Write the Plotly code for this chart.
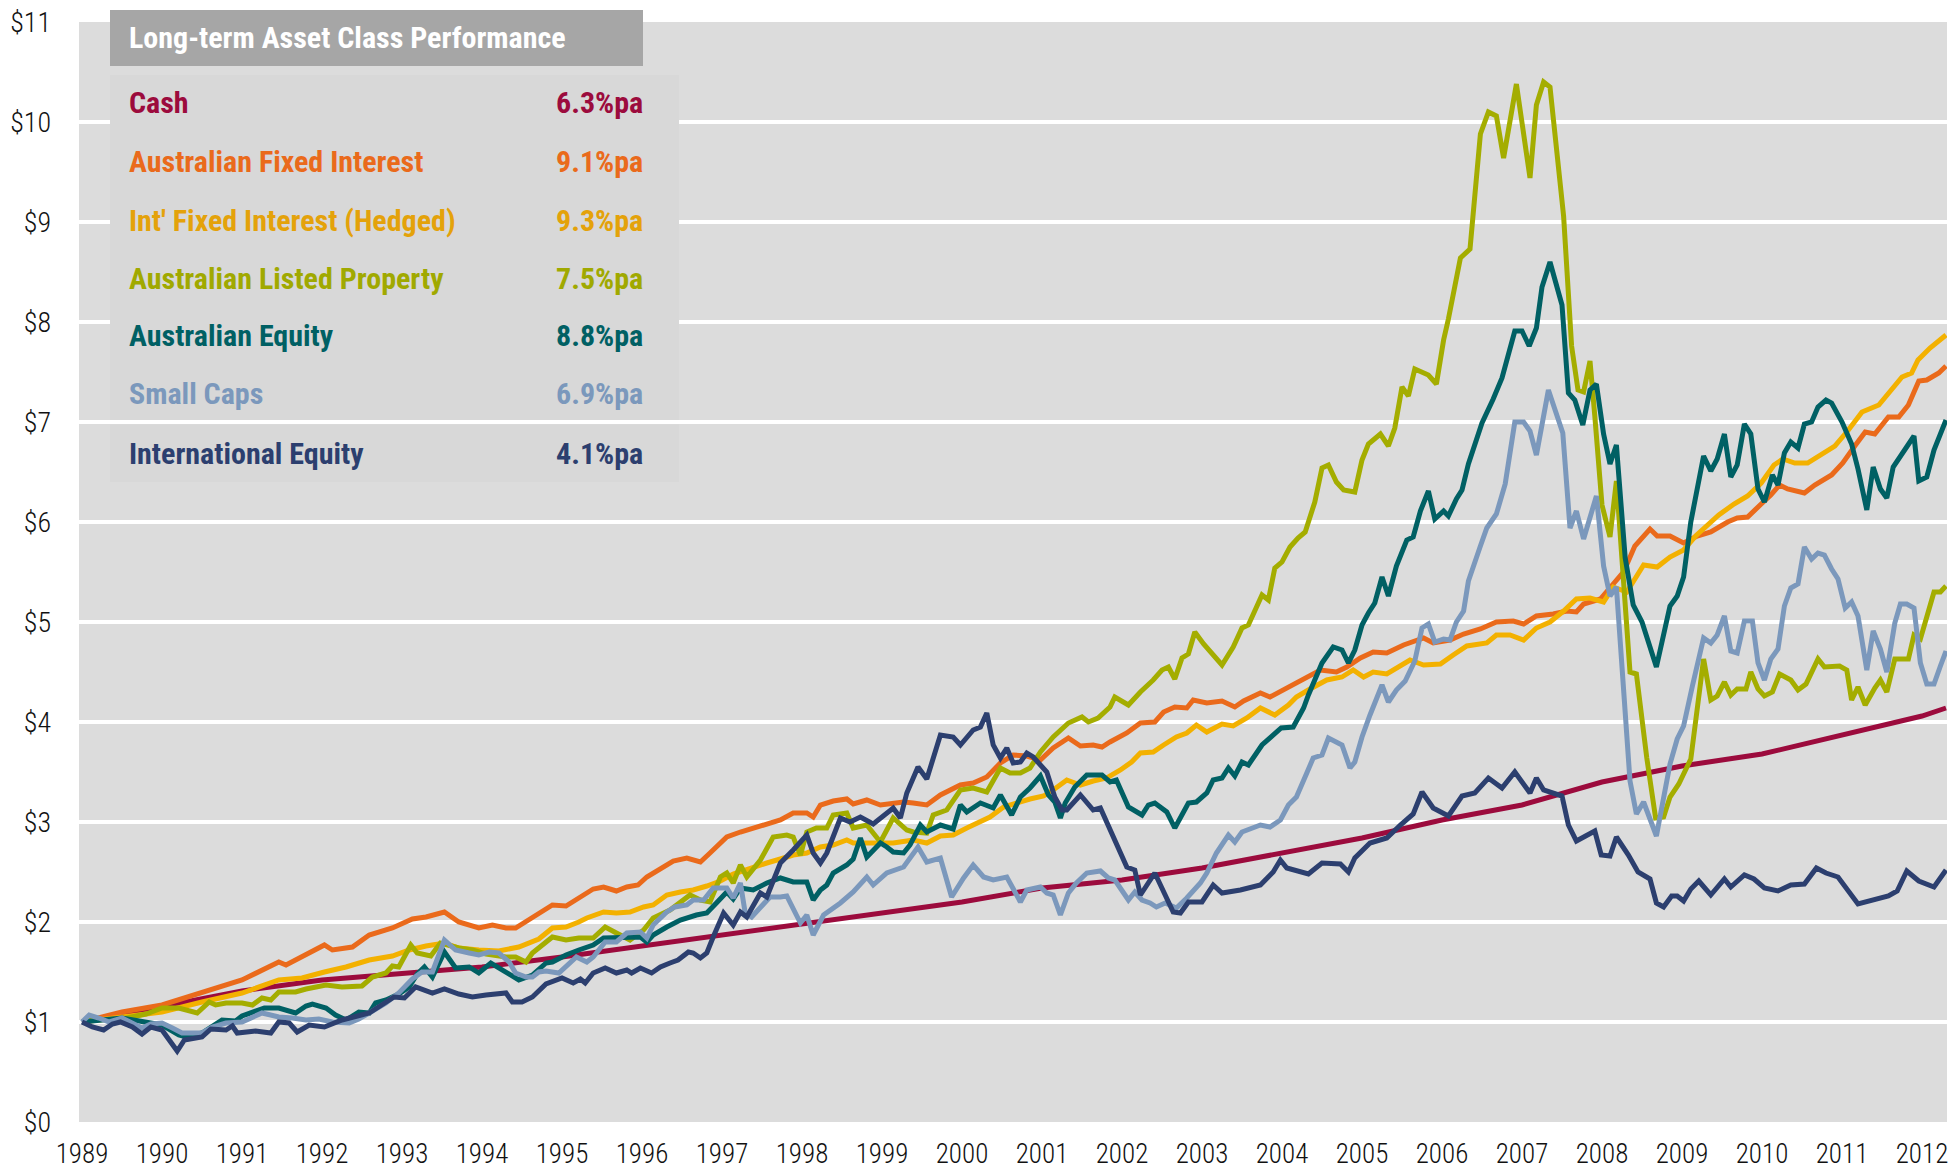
import plotly.graph_objects as go

# ---------------- data ----------------
cash_years = [1989.0, 1990, 1991, 1992, 1993, 1994, 1995, 1996, 1997, 1998, 1999, 2000, 2001, 2002,
              2003, 2004, 2005, 2006, 2007, 2008, 2009, 2010, 2011, 2012, 2012.3]
cash_values = [1.00, 1.16, 1.31, 1.42, 1.48, 1.55, 1.65, 1.76, 1.87, 1.99, 2.09, 2.20, 2.34, 2.42,
               2.54, 2.69, 2.84, 3.02, 3.17, 3.40, 3.56, 3.68, 3.87, 4.06, 4.14]

afi_years = [1989.0, 1989.5, 1990.0, 1990.5, 1991.0, 1991.46, 1991.55, 1992.03, 1992.13, 1992.38, 1992.59,
             1992.88, 1993.13, 1993.30, 1993.53, 1993.71, 1993.96, 1994.13, 1994.30, 1994.42, 1994.63,
             1994.88, 1995.05, 1995.21, 1995.39, 1995.52, 1995.68, 1995.81, 1995.95, 1996.06, 1996.23,
             1996.39, 1996.56, 1996.73, 1996.85, 1997.06, 1997.23, 1997.39, 1997.56, 1997.73, 1997.89,
             1998.06, 1998.14, 1998.23, 1998.39, 1998.56, 1998.64, 1998.81, 1998.98, 1999.14, 1999.27,
             1999.39, 1999.56, 1999.73, 1999.98, 2000.14, 2000.31, 2000.48, 2000.64, 2000.81, 2000.98,
             2001.14, 2001.33, 2001.48, 2001.64, 2001.75, 2001.85, 2002.06, 2002.23, 2002.41, 2002.52,
             2002.66, 2002.81, 2002.89, 2003.06, 2003.25, 2003.41, 2003.52, 2003.73, 2003.85, 2004.06,
             2004.27, 2004.48, 2004.68, 2004.81, 2004.98, 2005.14, 2005.31, 2005.52, 2005.77, 2005.89,
             2006.1, 2006.27, 2006.48, 2006.68, 2006.89, 2007.02, 2007.18, 2007.39, 2007.56, 2007.68,
             2007.77, 2007.98, 2008.14, 2008.27, 2008.41, 2008.6, 2008.69, 2008.85, 2009.02, 2009.19,
             2009.36, 2009.48, 2009.57, 2009.69, 2009.82, 2009.99, 2010.11, 2010.22, 2010.32, 2010.53,
             2010.66, 2010.87, 2011.01, 2011.16, 2011.29, 2011.41, 2011.58, 2011.71, 2011.83, 2011.96,
             2012.06, 2012.21, 2012.3]
afi_values = [1.00, 1.10, 1.17, 1.30, 1.42, 1.60, 1.57, 1.77, 1.72, 1.75, 1.87,
              1.94, 2.03, 2.05, 2.10, 2.00, 1.94, 1.97, 1.94, 1.94, 2.04,
              2.17, 2.16, 2.24, 2.33, 2.35, 2.31, 2.35, 2.37, 2.45, 2.54,
              2.61, 2.64, 2.60, 2.69, 2.85, 2.90, 2.94, 2.99, 3.02, 3.09,
              3.09, 3.05, 3.17, 3.21, 3.23, 3.18, 3.22, 3.17, 3.19, 3.20,
              3.19, 3.17, 3.27, 3.37, 3.39, 3.45, 3.59, 3.67, 3.66, 3.62,
              3.74, 3.84, 3.76, 3.77, 3.75, 3.80, 3.89, 3.99, 4.00, 4.10,
              4.15, 4.14, 4.22, 4.19, 4.21, 4.15, 4.21, 4.29, 4.25, 4.34,
              4.44, 4.52, 4.50, 4.55, 4.64, 4.70, 4.69, 4.77, 4.84, 4.79,
              4.82, 4.88, 4.93, 5.00, 5.01, 4.98, 5.06, 5.08, 5.11, 5.10,
              5.18, 5.23, 5.38, 5.50, 5.76, 5.93, 5.86, 5.86, 5.79, 5.86,
              5.90, 5.96, 6.00, 6.04, 6.05, 6.18, 6.27, 6.37, 6.33, 6.29,
              6.37, 6.47, 6.59, 6.76, 6.90, 6.88, 7.05, 7.05, 7.17, 7.41,
              7.42, 7.49, 7.56]

ifi_years = [1989.0, 1989.5, 1990.0, 1990.5, 1991.0, 1991.46, 1991.75, 1992.03, 1992.3, 1992.59, 1992.88,
             1993.09, 1993.30, 1993.53, 1993.71, 1993.96, 1994.21, 1994.46, 1994.71, 1994.88, 1995.05,
             1995.21, 1995.31, 1995.52, 1995.68, 1995.85, 1996.02, 1996.14, 1996.31, 1996.48, 1996.64,
             1996.81, 1996.98, 1997.14, 1997.39, 1997.56, 1997.73, 1997.89, 1998.06, 1998.23, 1998.39,
             1998.56, 1998.64, 1998.89, 1999.14, 1999.39, 1999.56, 1999.73, 1999.89, 2000.06, 2000.23,
             2000.35, 2000.52, 2000.68, 2000.85, 2001.02, 2001.14, 2001.31, 2001.48, 2001.64, 2001.81,
             2001.98, 2002.12, 2002.23, 2002.39, 2002.52, 2002.68, 2002.81, 2002.93, 2003.06, 2003.25,
             2003.39, 2003.56, 2003.73, 2003.91, 2004.08, 2004.18, 2004.35, 2004.56, 2004.75, 2004.89,
             2005.02, 2005.14, 2005.31, 2005.39, 2005.6, 2005.77, 2005.98, 2006.14, 2006.31, 2006.56,
             2006.68, 2006.85, 2007.02, 2007.18, 2007.35, 2007.52, 2007.68, 2007.85, 2008.02, 2008.14,
             2008.31, 2008.52, 2008.69, 2008.85, 2009.02, 2009.17, 2009.34, 2009.46, 2009.65, 2009.82,
             2009.99, 2010.15, 2010.26, 2010.41, 2010.57, 2010.74, 2010.91, 2011.08, 2011.25, 2011.46,
             2011.62, 2011.75, 2011.87, 2011.95, 2012.1, 2012.3]
ifi_values = [1.00, 1.05, 1.10, 1.20, 1.29, 1.42, 1.44, 1.50, 1.55, 1.62, 1.66,
              1.72, 1.76, 1.79, 1.74, 1.72, 1.71, 1.75, 1.83, 1.94, 1.95,
              2.00, 2.04, 2.10, 2.09, 2.10, 2.15, 2.17, 2.27, 2.30, 2.32,
              2.36, 2.41, 2.48, 2.55, 2.59, 2.63, 2.67, 2.69, 2.75, 2.77,
              2.82, 2.79, 2.79, 2.79, 2.82, 2.79, 2.86, 2.87, 2.94, 3.00,
              3.05, 3.15, 3.19, 3.23, 3.26, 3.32, 3.42, 3.37, 3.41, 3.44,
              3.52, 3.60, 3.69, 3.70, 3.77, 3.85, 3.89, 3.97, 3.90, 3.98,
              3.96, 4.04, 4.14, 4.07, 4.17, 4.25, 4.33, 4.42, 4.45, 4.52,
              4.45, 4.50, 4.48, 4.52, 4.62, 4.57, 4.58, 4.67, 4.76, 4.79,
              4.87, 4.87, 4.82, 4.94, 5.00, 5.11, 5.23, 5.24, 5.20, 5.35,
              5.30, 5.57, 5.55, 5.65, 5.72, 5.86, 5.98, 6.07, 6.18, 6.26,
              6.39, 6.57, 6.63, 6.59, 6.59, 6.67, 6.76, 6.92, 7.10, 7.17,
              7.33, 7.45, 7.49, 7.62, 7.74, 7.87]

alp_years = [1989.0, 1989.13, 1989.5, 1989.63, 1989.8, 1990.0, 1990.21, 1990.44, 1990.59, 1990.67, 1990.80,
             1991.0, 1991.13, 1991.25, 1991.36, 1991.46, 1991.67, 1991.80, 1992.05, 1992.25, 1992.50,
             1992.63, 1992.80, 1992.88, 1992.96, 1993.11, 1993.19, 1993.36, 1993.48, 1993.71, 1993.88,
             1994.05, 1994.30, 1994.42, 1994.55, 1994.63, 1994.80, 1994.88, 1995.05, 1995.21, 1995.39,
             1995.54, 1995.68, 1995.85, 1996.02, 1996.14, 1996.35, 1996.6, 1996.73, 1996.85, 1996.98,
             1997.06, 1997.14, 1997.23, 1997.31, 1997.48, 1997.64, 1997.81, 1997.89, 1997.98, 1998.06,
             1998.18, 1998.31, 1998.39, 1998.56, 1998.64, 1998.81, 1998.98, 1999.14, 1999.31, 1999.39,
             1999.56, 1999.64, 1999.81, 1999.98, 2000.14, 2000.31, 2000.48, 2000.60, 2000.73, 2000.85,
             2000.98, 2001.14, 2001.33, 2001.5, 2001.58, 2001.7, 2001.85, 2001.91, 2002.08, 2002.23,
             2002.39, 2002.5, 2002.58, 2002.66, 2002.75, 2002.83, 2002.91, 2003.02, 2003.25, 2003.39,
             2003.5, 2003.58, 2003.75, 2003.83, 2003.91, 2004.0, 2004.1, 2004.2, 2004.29, 2004.41,
             2004.5, 2004.58, 2004.68, 2004.77, 2004.91, 2005.0, 2005.08, 2005.23, 2005.33, 2005.41,
             2005.5, 2005.58, 2005.66, 2005.83, 2005.93, 2006.02, 2006.08, 2006.23, 2006.35, 2006.48,
             2006.58, 2006.68, 2006.77, 2006.93, 2007.1, 2007.18, 2007.27, 2007.35, 2007.52, 2007.62,
             2007.7, 2007.77, 2007.85, 2007.91, 2008.0, 2008.1, 2008.18, 2008.35, 2008.43, 2008.56,
             2008.67, 2008.77, 2008.85, 2008.96, 2009.11, 2009.27, 2009.36, 2009.44, 2009.53, 2009.61,
             2009.69, 2009.8, 2009.86, 2009.95, 2010.03, 2010.13, 2010.22, 2010.36, 2010.45, 2010.55,
             2010.7, 2010.78, 2010.97, 2011.06, 2011.12, 2011.2, 2011.29, 2011.41, 2011.48, 2011.56,
             2011.66, 2011.83, 2011.9, 2011.98, 2012.15, 2012.23, 2012.3]
alp_values = [1.00, 1.02, 1.03, 1.05, 1.08, 1.14, 1.14, 1.09, 1.20, 1.17, 1.19,
              1.19, 1.17, 1.24, 1.22, 1.30, 1.30, 1.33, 1.37, 1.35, 1.36,
              1.45, 1.49, 1.56, 1.55, 1.77, 1.69, 1.66, 1.79, 1.74, 1.72,
              1.68, 1.65, 1.65, 1.60, 1.69, 1.79, 1.85, 1.82, 1.84, 1.84,
              1.95, 1.89, 1.82, 1.92, 2.04, 2.12, 2.27, 2.22, 2.20, 2.45,
              2.49, 2.39, 2.57, 2.45, 2.62, 2.85, 2.87, 2.85, 2.67, 2.90,
              2.94, 2.94, 3.07, 3.09, 2.94, 2.97, 2.80, 3.04, 2.92, 2.90,
              2.89, 3.07, 3.12, 3.32, 3.34, 3.30, 3.54, 3.49, 3.49, 3.54,
              3.70, 3.85, 3.99, 4.05, 4.00, 4.04, 4.15, 4.25, 4.17, 4.30,
              4.42, 4.52, 4.55, 4.43, 4.64, 4.68, 4.90, 4.78, 4.57, 4.75,
              4.94, 4.97, 5.27, 5.22, 5.54, 5.60, 5.75, 5.84, 5.90, 6.20,
              6.54, 6.57, 6.40, 6.32, 6.30, 6.62, 6.78, 6.88, 6.76, 6.94,
              7.35, 7.26, 7.53, 7.47, 7.38, 7.82, 8.03, 8.64, 8.73, 9.88,
              10.10, 10.06, 9.64, 10.38, 9.44, 10.17, 10.40, 10.35, 9.06, 7.76,
              7.32, 7.30, 7.61, 7.06, 6.17, 5.85, 6.41, 4.50, 4.48, 3.64,
              3.04, 3.05, 3.25, 3.38, 3.63, 4.63, 4.22, 4.26, 4.40, 4.27,
              4.33, 4.33, 4.50, 4.33, 4.26, 4.30, 4.48, 4.42, 4.32, 4.38,
              4.63, 4.55, 4.56, 4.52, 4.22, 4.35, 4.17, 4.34, 4.42, 4.30,
              4.63, 4.63, 4.87, 4.83, 5.30, 5.30, 5.36]

ae_years = [1989.0, 1989.5, 1990.0, 1990.21, 1990.3, 1990.5, 1990.75, 1990.92, 1991.0, 1991.28, 1991.46,
            1991.67, 1991.8, 1991.88, 1992.05, 1992.17, 1992.3, 1992.46, 1992.59, 1992.67, 1992.8,
            1992.96, 1993.09, 1993.19, 1993.28, 1993.38, 1993.53, 1993.67, 1993.84, 1993.96, 1994.11,
            1994.21, 1994.38, 1994.46, 1994.63, 1994.71, 1994.8, 1994.88, 1995.05, 1995.21, 1995.39,
            1995.52, 1995.68, 1995.98, 1996.06, 1996.14, 1996.31, 1996.48, 1996.68, 1996.81, 1996.93,
            1997.06, 1997.14, 1997.23, 1997.39, 1997.56, 1997.73, 1997.89, 1998.06, 1998.14, 1998.23,
            1998.31, 1998.39, 1998.56, 1998.64, 1998.73, 1998.81, 1998.98, 1999.06, 1999.14, 1999.27,
            1999.35, 1999.48, 1999.56, 1999.73, 1999.89, 1999.98, 2000.06, 2000.23, 2000.39, 2000.48,
            2000.62, 2000.73, 2000.85, 2000.98, 2001.08, 2001.16, 2001.23, 2001.29, 2001.41, 2001.56,
            2001.75, 2001.85, 2001.93, 2002.08, 2002.25, 2002.33, 2002.41, 2002.56, 2002.66, 2002.83,
            2002.93, 2003.06, 2003.14, 2003.25, 2003.33, 2003.41, 2003.5, 2003.58, 2003.75, 2003.99,
            2004.14, 2004.27, 2004.33, 2004.5, 2004.64, 2004.75, 2004.83, 2004.91, 2005.0, 2005.08,
            2005.16, 2005.25, 2005.33, 2005.43, 2005.56, 2005.64, 2005.73, 2005.83, 2005.91, 2006.02,
            2006.08, 2006.18, 2006.25, 2006.33, 2006.41, 2006.5, 2006.64, 2006.75, 2006.91, 2007.0,
            2007.09, 2007.18, 2007.25, 2007.35, 2007.5, 2007.58, 2007.66, 2007.76, 2007.85, 2007.93,
            2008.02, 2008.1, 2008.18, 2008.29, 2008.39, 2008.5, 2008.68, 2008.85, 2008.94, 2009.02,
            2009.11, 2009.27, 2009.36, 2009.44, 2009.53, 2009.61, 2009.69, 2009.78, 2009.86, 2009.95,
            2010.03, 2010.13, 2010.2, 2010.28, 2010.36, 2010.45, 2010.53, 2010.62, 2010.7, 2010.8,
            2010.87, 2011.0, 2011.12, 2011.2, 2011.31, 2011.39, 2011.48, 2011.56, 2011.64, 2011.77,
            2011.9, 2011.96, 2012.06, 2012.15, 2012.3]
ae_values = [1.00, 1.04, 0.97, 0.87, 0.85, 0.89, 1.02, 1.01, 1.06, 1.14, 1.14,
             1.09, 1.16, 1.18, 1.14, 1.07, 1.02, 1.10, 1.09, 1.19, 1.22,
             1.28, 1.35, 1.48, 1.55, 1.45, 1.70, 1.54, 1.55, 1.49, 1.59,
             1.54, 1.45, 1.42, 1.47, 1.52, 1.59, 1.60, 1.67, 1.72, 1.77,
             1.84, 1.84, 1.85, 1.80, 1.87, 1.95, 2.02, 2.07, 2.09, 2.19,
             2.30, 2.23, 2.34, 2.32, 2.39, 2.44, 2.40, 2.40, 2.22, 2.32,
             2.37, 2.49, 2.57, 2.63, 2.84, 2.65, 2.79, 2.75, 2.70, 2.69,
             2.77, 2.97, 2.90, 2.97, 2.93, 3.17, 3.10, 3.19, 3.14, 3.27,
             3.07, 3.25, 3.34, 3.46, 3.27, 3.20, 3.04, 3.19, 3.35, 3.47,
             3.47, 3.40, 3.42, 3.15, 3.07, 3.17, 3.19, 3.10, 2.94, 3.19,
             3.20, 3.29, 3.42, 3.44, 3.54, 3.46, 3.60, 3.57, 3.77, 3.94,
             3.95, 4.14, 4.27, 4.59, 4.75, 4.72, 4.59, 4.72, 4.97, 5.09,
             5.19, 5.45, 5.26, 5.56, 5.82, 5.85, 6.11, 6.31, 6.03, 6.11,
             6.06, 6.23, 6.32, 6.58, 6.76, 6.99, 7.23, 7.44, 7.91, 7.91,
             7.76, 7.94, 8.35, 8.60, 8.17, 7.29, 7.22, 6.97, 7.32, 7.38,
             6.88, 6.58, 6.77, 5.64, 5.17, 5.00, 4.55, 5.16, 5.26, 5.45,
             6.00, 6.66, 6.51, 6.63, 6.88, 6.45, 6.57, 6.98, 6.88, 6.33,
             6.20, 6.47, 6.37, 6.69, 6.80, 6.74, 6.98, 7.00, 7.15, 7.22,
             7.19, 7.00, 6.78, 6.53, 6.12, 6.55, 6.33, 6.24, 6.55, 6.70,
             6.86, 6.41, 6.45, 6.72, 7.02]

sc_years = [1989.0, 1989.09, 1989.21, 1989.34, 1989.5, 1989.63, 1989.75, 1989.86, 1990.0, 1990.13, 1990.25,
            1990.5, 1990.63, 1990.8, 1991.0, 1991.25, 1991.46, 1991.63, 1991.8, 1991.96, 1992.13,
            1992.34, 1992.46, 1992.59, 1992.8, 1992.96, 1993.13, 1993.25, 1993.38, 1993.53, 1993.67,
            1993.84, 1993.96, 1994.09, 1994.21, 1994.34, 1994.42, 1994.55, 1994.63, 1994.71, 1994.8,
            1994.96, 1995.09, 1995.18, 1995.31, 1995.39, 1995.54, 1995.68, 1995.81, 1995.98, 1996.06,
            1996.14, 1996.31, 1996.41, 1996.56, 1996.64, 1996.77, 1996.89, 1997.06, 1997.14, 1997.23,
            1997.29, 1997.37, 1997.48, 1997.6, 1997.73, 1997.81, 1997.98, 1998.06, 1998.14, 1998.27,
            1998.48, 1998.64, 1998.81, 1998.89, 1999.06, 1999.27, 1999.45, 1999.56, 1999.73, 1999.87,
            2000.02, 2000.14, 2000.27, 2000.39, 2000.56, 2000.73, 2000.81, 2000.98, 2001.06, 2001.14,
            2001.23, 2001.33, 2001.43, 2001.56, 2001.73, 2001.83, 2001.91, 2002.02, 2002.08, 2002.16,
            2002.25, 2002.35, 2002.43, 2002.54, 2002.68, 2002.81, 2002.98, 2003.06, 2003.18, 2003.33,
            2003.41, 2003.5, 2003.73, 2003.85, 2003.98, 2004.08, 2004.18, 2004.31, 2004.39, 2004.5,
            2004.58, 2004.75, 2004.85, 2004.91, 2005.0, 2005.1, 2005.25, 2005.33, 2005.43, 2005.54,
            2005.66, 2005.75, 2005.83, 2005.91, 2006.02, 2006.1, 2006.18, 2006.27, 2006.33, 2006.48,
            2006.56, 2006.68, 2006.79, 2006.91, 2007.02, 2007.1, 2007.18, 2007.33, 2007.43, 2007.51,
            2007.6, 2007.68, 2007.77, 2007.93, 2008.02, 2008.1, 2008.18, 2008.35, 2008.43, 2008.52,
            2008.68, 2008.78, 2008.85, 2008.94, 2009.02, 2009.13, 2009.27, 2009.36, 2009.44, 2009.53,
            2009.61, 2009.69, 2009.78, 2009.88, 2009.95, 2010.03, 2010.11, 2010.2, 2010.28, 2010.36,
            2010.45, 2010.53, 2010.62, 2010.7, 2010.78, 2010.87, 2010.95, 2011.04, 2011.12, 2011.2,
            2011.31, 2011.39, 2011.48, 2011.56, 2011.66, 2011.73, 2011.81, 2011.9, 2011.98, 2012.06,
            2012.15, 2012.23, 2012.3]
sc_values = [1.00, 1.07, 1.04, 1.00, 1.04, 0.99, 0.94, 0.98, 0.99, 0.94, 0.89,
             0.89, 0.95, 0.99, 1.00, 1.09, 1.05, 1.04, 1.02, 1.03, 1.00,
             0.99, 1.03, 1.09, 1.19, 1.29, 1.43, 1.50, 1.50, 1.82, 1.72,
             1.69, 1.67, 1.70, 1.69, 1.60, 1.49, 1.45, 1.45, 1.50, 1.51,
             1.49, 1.58, 1.65, 1.60, 1.65, 1.80, 1.80, 1.89, 1.90, 1.84,
             1.97, 2.10, 2.15, 2.17, 2.22, 2.22, 2.34, 2.34, 2.24, 2.39,
             2.09, 2.05, 2.15, 2.25, 2.25, 2.26, 1.99, 2.07, 1.87, 2.07,
             2.19, 2.30, 2.45, 2.37, 2.49, 2.55, 2.75, 2.60, 2.64, 2.25,
             2.44, 2.57, 2.45, 2.42, 2.45, 2.20, 2.32, 2.35, 2.29, 2.27,
             2.07, 2.29, 2.39, 2.49, 2.51, 2.44, 2.42, 2.29, 2.22, 2.30,
             2.22, 2.19, 2.15, 2.19, 2.14, 2.24, 2.39, 2.49, 2.69, 2.87,
             2.80, 2.90, 2.97, 2.95, 3.02, 3.17, 3.25, 3.49, 3.64, 3.67,
             3.84, 3.77, 3.54, 3.60, 3.85, 4.07, 4.37, 4.20, 4.32, 4.41,
             4.61, 4.94, 4.98, 4.80, 4.83, 4.82, 5.00, 5.11, 5.41, 5.76,
             5.94, 6.08, 6.38, 7.00, 7.00, 6.91, 6.67, 7.32, 7.06, 6.89,
             5.94, 6.11, 5.83, 6.26, 5.56, 5.26, 5.35, 3.41, 3.08, 3.20,
             2.86, 3.25, 3.58, 3.83, 3.96, 4.36, 4.84, 4.79, 4.87, 5.06,
             4.71, 4.69, 5.01, 5.01, 4.59, 4.42, 4.63, 4.73, 5.16, 5.34,
             5.38, 5.75, 5.63, 5.69, 5.67, 5.53, 5.43, 5.14, 5.20, 5.06,
             4.52, 4.91, 4.73, 4.50, 4.99, 5.18, 5.18, 5.14, 4.59, 4.38,
             4.38, 4.56, 4.71]

ie_years = [1989.0, 1989.13, 1989.27, 1989.38, 1989.48, 1989.63, 1989.75, 1989.86, 1990.0, 1990.19, 1990.28,
            1990.5, 1990.61, 1990.80, 1990.88, 1990.94, 1991.17, 1991.36, 1991.46, 1991.59, 1991.69,
            1991.84, 1992.03, 1992.25, 1992.59, 1992.80, 1992.90, 1993.03, 1993.17, 1993.38, 1993.53,
            1993.71, 1993.88, 1994.05, 1994.30, 1994.38, 1994.50, 1994.63, 1994.80, 1995.0, 1995.14,
            1995.23, 1995.29, 1995.39, 1995.54, 1995.68, 1995.81, 1995.87, 1995.98, 1996.12, 1996.23,
            1996.35, 1996.45, 1996.58, 1996.64, 1996.73, 1996.81, 1996.89, 1997.02, 1997.14, 1997.23,
            1997.31, 1997.48, 1997.56, 1997.73, 1997.89, 1998.06, 1998.14, 1998.23, 1998.31, 1998.48,
            1998.60, 1998.73, 1998.89, 1999.0, 1999.14, 1999.23, 1999.31, 1999.45, 1999.56, 1999.73,
            1999.89, 1999.98, 2000.14, 2000.23, 2000.31, 2000.39, 2000.48, 2000.56, 2000.64, 2000.73,
            2000.81, 2000.89, 2000.98, 2001.06, 2001.16, 2001.25, 2001.31, 2001.48, 2001.64, 2001.73,
            2002.06, 2002.16, 2002.23, 2002.41, 2002.64, 2002.73, 2002.83, 2003.0, 2003.14, 2003.25,
            2003.48, 2003.73, 2003.89, 2003.98, 2004.06, 2004.33, 2004.50, 2004.73, 2004.83, 2004.91,
            2005.10, 2005.31, 2005.48, 2005.64, 2005.75, 2005.89, 2006.08, 2006.25, 2006.41, 2006.58,
            2006.75, 2006.91, 2007.1, 2007.18, 2007.27, 2007.50, 2007.58, 2007.68, 2007.91, 2007.99,
            2008.1, 2008.18, 2008.33, 2008.45, 2008.6, 2008.68, 2008.77, 2008.87, 2008.94, 2009.02,
            2009.11, 2009.21, 2009.36, 2009.53, 2009.61, 2009.78, 2009.9, 2010.03, 2010.2, 2010.36,
            2010.53, 2010.68, 2010.8, 2010.95, 2011.2, 2011.41, 2011.58, 2011.69, 2011.81, 2011.96,
            2012.15, 2012.3]
ie_values = [1.00, 0.95, 0.92, 0.98, 1.00, 0.95, 0.88, 0.95, 0.92, 0.71, 0.82,
             0.85, 0.93, 0.92, 0.96, 0.89, 0.91, 0.89, 1.00, 0.99, 0.90,
             0.97, 0.95, 1.02, 1.09, 1.19, 1.25, 1.24, 1.35, 1.29, 1.33,
             1.28, 1.25, 1.27, 1.29, 1.20, 1.20, 1.25, 1.38, 1.44, 1.39,
             1.43, 1.39, 1.49, 1.54, 1.49, 1.52, 1.49, 1.54, 1.49, 1.55,
             1.59, 1.62, 1.70, 1.69, 1.64, 1.69, 1.85, 2.09, 1.97, 2.10,
             2.05, 2.29, 2.25, 2.59, 2.72, 2.87, 2.69, 2.59, 2.69, 3.04,
             3.00, 3.05, 2.98, 3.05, 3.14, 3.04, 3.29, 3.55, 3.43, 3.87,
             3.85, 3.77, 3.92, 3.95, 4.09, 3.77, 3.64, 3.74, 3.59, 3.60,
             3.69, 3.65, 3.56, 3.50, 3.25, 3.12, 3.12, 3.27, 3.12, 3.14,
             2.55, 2.52, 2.27, 2.49, 2.10, 2.09, 2.20, 2.20, 2.37, 2.29,
             2.32, 2.37, 2.50, 2.62, 2.54, 2.48, 2.59, 2.58, 2.50, 2.64,
             2.79, 2.84, 2.97, 3.08, 3.30, 3.14, 3.06, 3.26, 3.29, 3.44,
             3.34, 3.50, 3.29, 3.44, 3.32, 3.26, 2.97, 2.81, 2.91, 2.67,
             2.66, 2.85, 2.67, 2.50, 2.43, 2.19, 2.15, 2.26, 2.26, 2.21,
             2.33, 2.41, 2.27, 2.43, 2.35, 2.47, 2.43, 2.34, 2.31, 2.37,
             2.38, 2.54, 2.49, 2.45, 2.18, 2.23, 2.26, 2.31, 2.51, 2.41,
             2.35, 2.52]

series_names = ["Cash", "Australian Fixed Interest", "Int' Fixed Interest (Hedged)",
                "Australian Listed Property", "Australian Equity", "Small Caps", "International Equity"]
series_returns = ["6.3%pa", "9.1%pa", "9.3%pa", "7.5%pa", "8.8%pa", "6.9%pa", "4.1%pa"]
line_colors = ["#9c0b3d", "#ea6a1b", "#f3b100", "#a4ad00", "#006064", "#7b98bc", "#2c3f6f"]
text_colors = ["#9c0b3d", "#ea6a1b", "#e4a20a", "#a0a900", "#006064", "#7b98bc", "#2c3f6f"]

year_ticks = list(range(1989, 2013))
dollar_ticks = list(range(0, 12))

series_x = [cash_years, afi_years, ifi_years, alp_years, ae_years, sc_years, ie_years]
series_y = [cash_values, afi_values, ifi_values, alp_values, ae_values, sc_values, ie_values]

# ---------------- figure ----------------
W, H = 1960, 1173
ML, MR, MT, MB = 79, 13, 22, 51
PW, PH = W - ML - MR, H - MT - MB


def px_x(px):
    return (px - ML) / PW


def px_y(py):
    return (H - MB - py) / PH


FONT = "Roboto Condensed, Open Sans Condensed, DejaVu Sans Condensed, sans-serif"

fig = go.Figure()
for name, xs, ys, col in zip(series_names, series_x, series_y, line_colors):
    fig.add_trace(go.Scatter(x=xs, y=ys, mode="lines", name=name,
                             line=dict(color=col, width=5), hoverinfo="skip"))

shapes = []
# header box
shapes.append(dict(type="rect", xref="paper", yref="paper", x0=px_x(110), x1=px_x(643),
                   y0=px_y(66), y1=px_y(10), fillcolor="#a6a6a6", line=dict(width=0), layer="above"))
# body box (split at the $7 gridline so it stays visible)
shapes.append(dict(type="rect", xref="paper", yref="paper", x0=px_x(110), x1=px_x(679),
                   y0=px_y(420), y1=px_y(75), fillcolor="#d8d8d8", line=dict(width=0), layer="above"))
shapes.append(dict(type="rect", xref="paper", yref="paper", x0=px_x(110), x1=px_x(679),
                   y0=px_y(482), y1=px_y(424.5), fillcolor="#d8d8d8", line=dict(width=0), layer="above"))

annotations = [dict(xref="paper", yref="paper", x=px_x(127), y=px_y(38), xanchor="left", yanchor="middle",
                    text="<b>Long-term Asset Class Performance</b>", showarrow=False,
                    font=dict(family=FONT, size=30, color="white"))]
row_py = [103, 161.5, 220, 278, 336, 394, 453]
for name, ret, col, py in zip(series_names, series_returns, text_colors, row_py):
    annotations.append(dict(xref="paper", yref="paper", x=px_x(127), y=px_y(py), xanchor="left",
                            yanchor="middle", text="<b>%s</b>" % name, showarrow=False,
                            font=dict(family=FONT, size=30, color=col)))
    annotations.append(dict(xref="paper", yref="paper", x=px_x(645), y=px_y(py), xanchor="right",
                            yanchor="middle", text="<b>%s</b>" % ret, showarrow=False,
                            font=dict(family=FONT, size=30, color=col)))

fig.update_layout(
    width=W, height=H,
    margin=dict(l=ML, r=MR, t=MT, b=MB, pad=0),
    paper_bgcolor="white", plot_bgcolor="#dcdcdc",
    showlegend=False,
    shapes=shapes, annotations=annotations,
    xaxis=dict(range=[1988.9625, 2012.3125], tickmode="array", tickvals=year_ticks,
               ticktext=[str(y) for y in year_ticks], showgrid=False, zeroline=False, showline=False,
               ticks="", ticklabelstandoff=13, automargin=False,
               tickfont=dict(family=FONT, size=27, color="#111111", weight=300)),
    yaxis=dict(range=[0, 11], tickmode="array", tickvals=dollar_ticks,
               ticktext=["$%d" % v for v in dollar_ticks], showgrid=True, gridcolor="white", gridwidth=4,
               zeroline=False, showline=False, ticks="", ticklabelstandoff=27, automargin=False,
               tickfont=dict(family=FONT, size=28, color="#111111", weight=300)),
)

fig.write_html("out.html", config={"displayModeBar": False},
               post_script="document.body.style.margin='0';document.body.style.overflow='hidden';")
